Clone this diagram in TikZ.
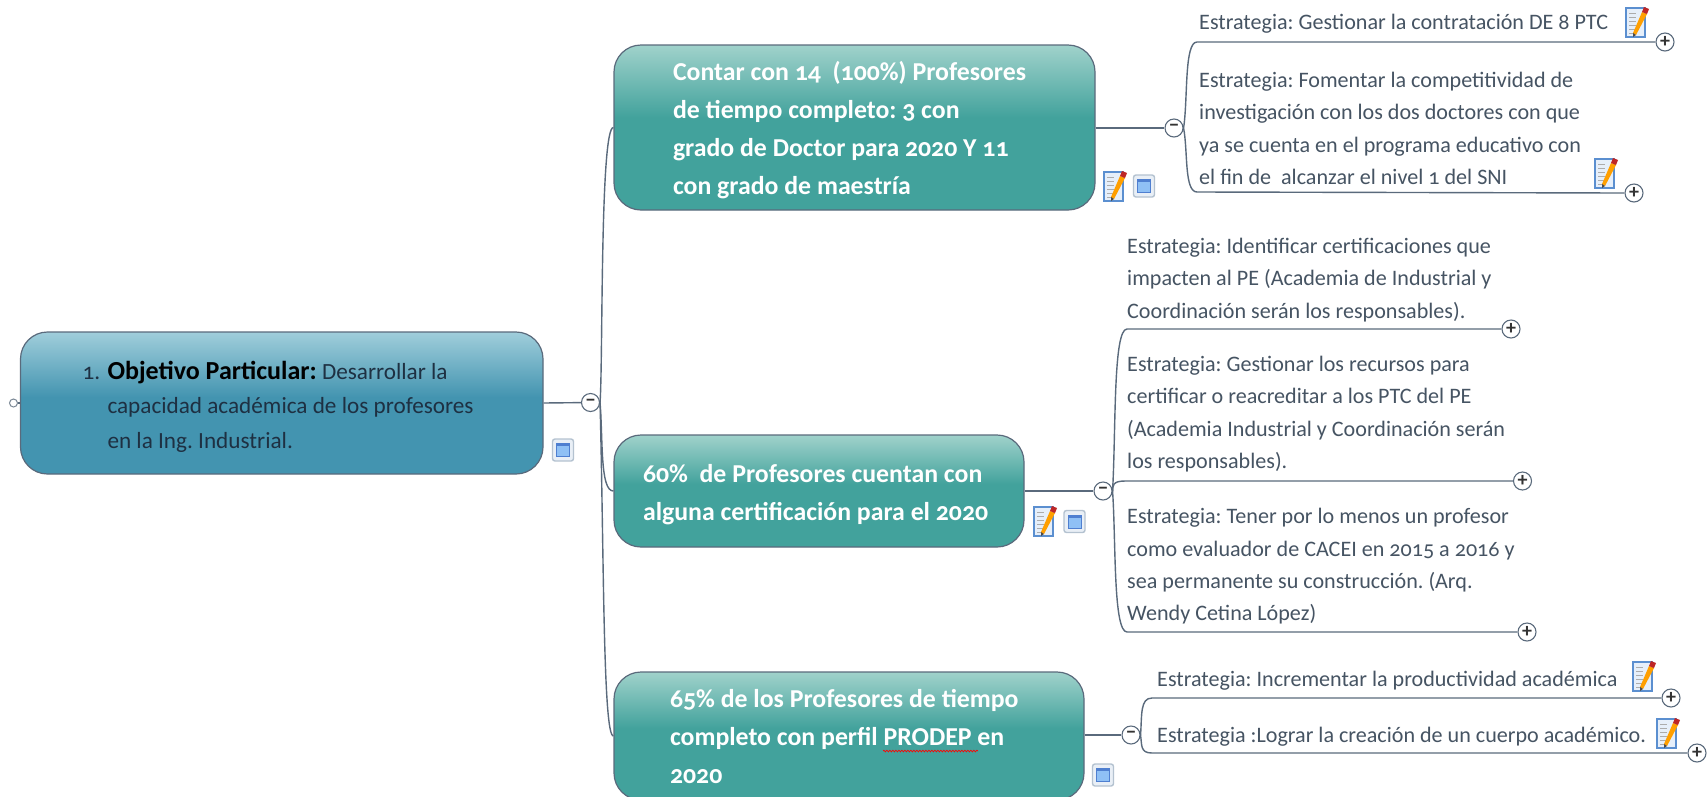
\documentclass[tikz,border=0pt]{standalone}
\usepackage{fontspec}
\setmainfont[Numbers=OldStyle]{Carlito}
\usetikzlibrary{decorations.pathmorphing}
\definecolor{edgecol}{HTML}{5A6A7C}
\definecolor{strat}{HTML}{465463}
\definecolor{rootink}{HTML}{1E3042}
\definecolor{rtop}{HTML}{A0CEDB}
\definecolor{rbot}{HTML}{4394B0}
\definecolor{ttop}{HTML}{A0D2CB}
\definecolor{tbot}{HTML}{42A29C}
\definecolor{pageedge}{HTML}{5B8FD0}
\definecolor{pagefill}{HTML}{E6EFFA}
\definecolor{winedge}{HTML}{B4C2D0}
\definecolor{winfill}{HTML}{E9EFF6}
\definecolor{wininner}{HTML}{8FC0F5}
\definecolor{winbar}{HTML}{4F7FD0}
\pgfdeclareverticalshading{rootshade}{100bp}{color(0bp)=(rbot);color(52bp)=(rbot);color(75bp)=(rtop);color(100bp)=(rtop)}
\pgfdeclareverticalshading{tealshade}{100bp}{color(0bp)=(tbot);color(53bp)=(tbot);color(75bp)=(ttop);color(100bp)=(ttop)}
\tikzset{
  x=1pt,y=-1pt,
  boxbase/.style={draw=edgecol,line width=1.2pt,rounded corners=27pt,inner ysep=0pt,align=flush left,anchor=center},
  rootbox/.style={boxbase,shading=rootshade,text=rootink,font={\frenchspacing\fontsize{23.2}{34.5}\selectfont}},
  tealbox/.style={boxbase,shading=tealshade,text=white,font={\frenchspacing\bfseries\fontsize{25.8}{38}\selectfont}},
  strattext/.style={anchor=west,inner sep=0pt,align=left,text=strat,font={\frenchspacing\fontsize{22.1}{32.3}\selectfont}},
  conn/.style={draw=edgecol,line width=1.4pt},
  toggle/.style={circle,draw=edgecol,fill=white,line width=1.1pt,minimum size=18pt,inner sep=0pt,text=black!80,font={\bfseries\fontsize{20}{20}\selectfont}},
  tinyring/.style={circle,draw=edgecol!80,fill=white,line width=1pt,minimum size=8pt,inner sep=0pt},
  noteicon/.pic={
    \fill[fill=pagefill,draw=pageedge,line width=1.1pt] (-10,-14) rectangle (9,15);
    \foreach \yy in {-9,-5,-1,3,7,11}{\draw[gray!65,line width=.9pt] (-7,\yy) -- (0,\yy);}
    \fill[orange!75!yellow] (-3,11) -- (6,-10) -- (11,-8) -- (0,13) -- cycle;
    \fill[red!70!black!85] (6,-10) -- (8,-15) -- (13,-13) -- (11,-8) -- cycle;
    \fill[black!70] (-3,11) -- (0,13) -- (-3,15) -- cycle;
  },
  winicon/.pic={
    \draw[draw=winedge,fill=winfill,line width=1.4pt,rounded corners=2.5pt] (-10.5,-11) rectangle (10.5,11);
    \fill[wininner,draw=winbar,line width=.5pt] (-6.5,-6.5) rectangle (6.5,6.5);
    \fill[winbar] (-6.5,-6.5) rectangle (6.5,-4);
  }
}
\begin{document}
\begin{tikzpicture}
\useasboundingbox (0,0) rectangle (1707,796);
\clip (0,0) rectangle (1707,796);
\fill[white] (0,0) rectangle (1707,796);

% main boxes
\node[rootbox,inner xsep=62pt,text width=398.5pt,minimum height=142pt] (root) at (281.75,403)
  {\rule{0pt}{25pt}\makebox[25pt][l]{1.}{\bfseries\color{black}\fontsize{26}{34.5}\selectfont Objetivo Particular:} Desarrollar la\\
   \hspace*{25pt}capacidad académica de los profesores\\
   \hspace*{25pt}en la Ing. Industrial.};
\node[tealbox,inner xsep=59pt,text width=363pt,minimum height=165pt] (n1) at (854.5,127.5)
  {\rule{0pt}{24pt}Contar con 14\ \ (100\%) Profesores\\de tiempo completo: 3 con\\grado de Doctor para 2020 Y 11\\con grado de maestría};
\node[tealbox,inner xsep=29pt,text width=352pt,minimum height=112pt] (n2) at (819,491)
  {\rule{0pt}{25pt}60\%\ \ de Profesores cuentan con\\alguna certificación para el 2020};
\node[tealbox,inner xsep=56pt,text width=358pt,minimum height=128pt] (n3) at (849,736)
  {65\% de los Profesores de tiempo\\completo con perfil PRODEP en\\2020};

% toggles
\node[tinyring] (r0) at (13.5,403) {};
\node[toggle] (rm) at (590.5,402.5) {−};
\node[toggle] (m1) at (1174,128) {−};
\node[toggle] (m2) at (1103,491) {−};
\node[toggle] (m3) at (1131,735) {−};
\node[toggle] (p11) at (1665,42) {+};
\node[toggle] (p12) at (1634,193) {+};
\node[toggle] (p21) at (1511,329) {+};
\node[toggle] (p22) at (1522.5,481) {+};
\node[toggle] (p23) at (1527,632) {+};
\node[toggle] (p31) at (1671,698) {+};
\node[toggle] (p32) at (1697,753) {+};

% connectors
\draw[conn] (r0) -- (root);
\draw[conn] (root.east) -- (rm);
\draw[conn] (rm.east) .. controls (603,360) and (600,127) .. (n1.west);
\draw[conn] (rm.east) .. controls (603,440) and (600,491) .. (n2.west);
\draw[conn] (rm.east) .. controls (604,560) and (603,736) .. (n3.west);
\draw[conn] (n1.east |- m1) -- (m1);
\draw[conn] (n2.east |- m2) -- (m2);
\draw[conn] (n3.east |- m3) -- (m3);
\draw[conn] (m1.east) .. controls (1188,100) and (1184,42) .. (1197,42) -- (p11.west);
\draw[conn] (m1.east) .. controls (1188,150) and (1184,192) .. (1197,192) -- (p12.west);
\draw[conn] (m2.east) .. controls (1116,430) and (1113,329) .. (1127,329) -- (p21.west);
\draw[conn] (m2.east) .. controls (1113,486) and (1112,481) .. (1125,481) -- (p22.west);
\draw[conn] (m2.east) .. controls (1116,540) and (1113,632) .. (1127,632) -- (p23.west);
\draw[conn] (m3.east) .. controls (1142,715) and (1140,698) .. (1152,698) -- (p31.west);
\draw[conn] (m3.east) .. controls (1142,745) and (1140,753) .. (1152,753) -- (p32.west);

% strategy text
\node[strattext] (s11) at (1199,24) {Estrategia: Gestionar la contratación DE 8 PTC};
\node[strattext] (s12) at (1199,128.5) {Estrategia: Fomentar la competitividad de\\investigación con los dos doctores con que\\ya se cuenta en el programa educativo con\\el fin de\ \ alcanzar el nivel 1 del SNI};
\node[strattext] (s21) at (1127,280) {Estrategia: Identificar certificaciones que\\impacten al PE (Academia de Industrial y\\Coordinación serán los responsables).};
\node[strattext] (s22) at (1127,414) {Estrategia: Gestionar los recursos para\\certificar o reacreditar a los PTC del PE\\(Academia Industrial y Coordinación serán\\los responsables).};
\node[strattext] (s23) at (1127,566.5) {Estrategia: Tener por lo menos un profesor\\como evaluador de CACEI en 2015 a 2016 y\\sea permanente su construcción. (Arq.\\Wendy Cetina López)};
\node[strattext] (s31) at (1157,681) {Estrategia: Incrementar la productividad académica};
\node[strattext] (s32) at (1157,737) {Estrategia :Lograr la creación de un cuerpo académico.};

% spelling mark
\draw[red,line width=.7pt,decorate,decoration={snake,amplitude=.8pt,segment length=3pt}] (883,751) -- (978,751);

% icons
\pic at (1636,22) {noteicon};
\pic at (1605,173) {noteicon};
\pic at (1114,186) {noteicon};
\pic at (1044,521) {noteicon};
\pic at (1643,676) {noteicon};
\pic at (1667,733) {noteicon};
\pic at (1144,186) {winicon};
\pic at (563,450) {winicon};
\pic at (1074.5,521.5) {winicon};
\pic at (1103,775) {winicon};
\end{tikzpicture}
\end{document}
